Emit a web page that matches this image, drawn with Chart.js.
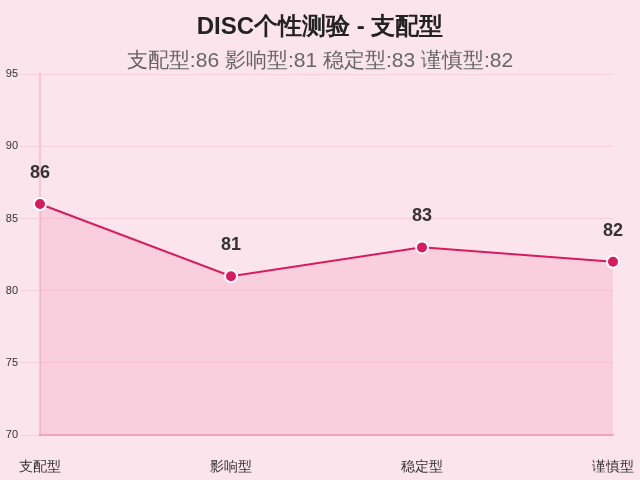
<!DOCTYPE html>
<html><head><meta charset="utf-8">
<script src="https://cdn.jsdelivr.net/npm/chart.js@4.4.0/dist/chart.umd.min.js"></script>
<style>html,body{margin:0;padding:0;background:#fce4ec;}#w{width:640px;height:480px;}</style>
</head><body><div id="w"><canvas id="c"></canvas></div>
<script>
const categories = ['支配型','影响型','稳定型','谨慎型'];
const scores = [86, 81, 83, 82];
const yTicks = [70, 75, 80, 85, 90, 95];
const titleText = 'DISC个性测验 - 支配型';
const subtitleText = categories.map((c,i)=>c+':'+scores[i]).join(' ');

const labelPlugin = {
  id:'vlabels',
  afterDatasetsDraw(chart){
    const ctx = chart.ctx;
    const meta = chart.getDatasetMeta(0);
    ctx.save();
    ctx.font = 'bold 18px "Liberation Sans", Arial, sans-serif';
    ctx.fillStyle = '#333';
    ctx.textAlign = 'center';
    ctx.textBaseline = 'middle';
    meta.data.forEach((p,i)=>{ ctx.fillText(String(scores[i]), p.x, p.y - 31); });
    ctx.restore();
  }
};
const bgPlugin = {id:'bg',beforeDraw(c){const x=c.ctx;x.save();x.fillStyle='#fce4ec';x.fillRect(0,0,c.width,c.height);x.restore();}};

new Chart(document.getElementById('c'), {
  type:'line',
  data:{labels:categories,datasets:[{
    data:scores,
    borderColor:'#d81b60',
    backgroundColor:'rgba(240,98,146,0.16)',
    fill:true,
    borderWidth:2,
    tension:0,
    pointRadius:6,
    pointBackgroundColor:'#d81b60',
    pointBorderColor:'#fff',
    pointBorderWidth:2
  }]},
  options:{
    responsive:true,maintainAspectRatio:false,animation:false,
    layout:{padding:{left:0,right:0,top:0,bottom:-12}},
    plugins:{
      legend:{display:false},
      tooltip:{enabled:false},
      title:{display:true,text:titleText,color:'#222',font:{family:'"Liberation Sans", Arial, sans-serif',size:24,weight:'bold'},padding:{top:13,bottom:7}},
      subtitle:{display:true,text:subtitleText,color:'#666',font:{family:'"Liberation Sans", Arial, sans-serif',size:21},padding:{bottom:0}}
    },
    scales:{
      x:{offset:false,
        afterFit(s){ s.paddingRight = 27; s.paddingLeft = 20; },
        grid:{display:false},
        border:{color:'rgba(216,27,96,0.25)',width:2},
        ticks:{color:'#333',padding:16,font:{family:'"Liberation Sans", Arial, sans-serif',size:14},maxRotation:0}},
      y:{min:70,max:95,
        afterFit(s){ s.width = 40; },
        afterBuildTicks(ax){ax.ticks=yTicks.map(v=>({value:v}));},
        grid:{color:'rgba(216,27,96,0.1)',tickLength:20},
        border:{color:'rgba(216,27,96,0.15)',width:2},
        ticks:{color:'#333',padding:2,font:{family:'"Liberation Sans", Arial, sans-serif',size:11}}}
    }
  },
  plugins:[bgPlugin,labelPlugin]
});
</script></body></html>
